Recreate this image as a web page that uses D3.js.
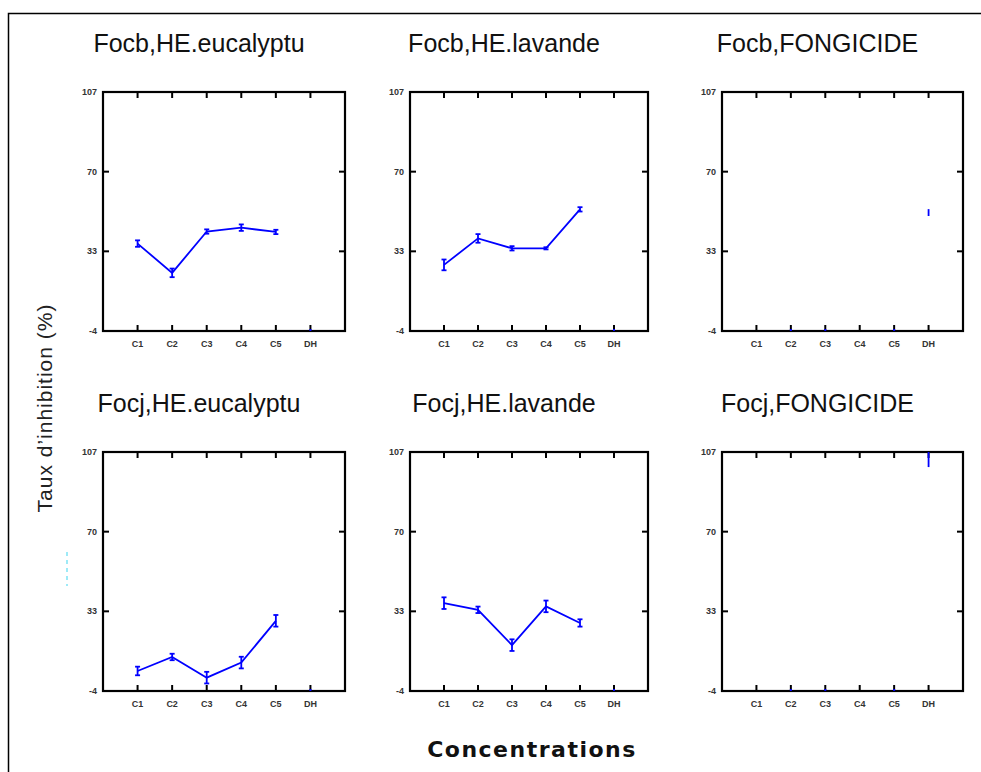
<!DOCTYPE html>
<html>
<head>
<meta charset="utf-8">
<script src="https://cdn.jsdelivr.net/npm/d3@7"></script>
<style>
  body { margin: 0; background: #fff; }
  svg { display: block; }
</style>
</head>
<body>
<div id="chart"></div>
<script>
// categories and ticks
const categories = ["C1", "C2", "C3", "C4", "C5", "DH"];
const yTicks = [-4, 33, 70, 107];

// values (null = nothing drawn)
const focbEucalyptu = [36.6, 23, 42.2, 44, 42, null];
const focbEucalyptuErr = [1.5, 2, 1, 1.5, 1, null];
const focbLavande = [26.7, 39, 34.4, 34.4, 52.5, null];
const focbLavandeErr = [2.5, 2, 1, 0.5, 1, null];
const focbFongicide = [null, null, null, null, null, 51];
const focbFongicideErr = [null, null, null, null, null, 1.6];
const focjEucalyptu = [5.3, 11.8, 2.2, 9.2, 28.6, null];
const focjEucalyptuErr = [2, 1.5, 2.7, 2.7, 2.7, null];
const focjLavande = [36.8, 33.7, 17.3, 35.3, 27.6, null];
const focjLavandeErr = [2.7, 1.5, 2.7, 2.7, 1.7, null];
const focjFongicide = [null, null, null, null, null, 103.5];
const focjFongicideErr = [null, null, null, null, null, 3.5];

// categories that only show a tiny blue mark on the x axis
const baseMarks = [["DH"], ["DH"], ["C2", "C3", "C5"], ["DH"], ["DH"], ["C2", "C3", "C5"]];

const panels = [
  { title: "Focb,HE.eucalyptu", values: focbEucalyptu, err: focbEucalyptuErr, line: true },
  { title: "Focb,HE.lavande", values: focbLavande, err: focbLavandeErr, line: true },
  { title: "Focb,FONGICIDE", values: focbFongicide, err: focbFongicideErr, line: false },
  { title: "Focj,HE.eucalyptu", values: focjEucalyptu, err: focjEucalyptuErr, line: true },
  { title: "Focj,HE.lavande", values: focjLavande, err: focjLavandeErr, line: true },
  { title: "Focj,FONGICIDE", values: focjFongicide, err: focjFongicideErr, line: false }
];

const W = 981, H = 772;
const colLeft = [103, 410, 722];
const colWidth = [242, 238, 241];
const rowTop = [92, 452];
const boxH = 239;

const svg = d3.select("#chart").append("svg")
  .attr("width", W)
  .attr("height", H);

// outer frame (only top and left visible)
svg.append("path")
  .attr("d", `M8.5,${H} V13.5 H${W}`)
  .attr("fill", "none")
  .attr("stroke", "#000")
  .attr("stroke-width", 1.5);

panels.forEach((p, i) => {
  const col = i % 3, row = Math.floor(i / 3);
  const left = colLeft[col], top = rowTop[row];
  const w = colWidth[col];

  const x = d3.scaleLinear().domain([0, 7]).range([0, w]);
  const y = d3.scaleLinear().domain([-4, 107]).range([boxH, 0]);
  const xPos = c => x(categories.indexOf(c) + 1);

  const g = svg.append("g").attr("transform", `translate(${left},${top})`);

  // title
  svg.append("text")
    .attr("x", left + w / 2 - 25)
    .attr("y", top - 40)
    .attr("text-anchor", "middle")
    .style("font-family", "'Liberation Sans', Arial, sans-serif")
    .style("font-size", "25px")
    .style("fill", "#111")
    .text(p.title);

  // ticks inside the box, all four sides
  const tickLen = 6;
  categories.forEach(c => {
    g.append("line").attr("x1", xPos(c)).attr("x2", xPos(c))
      .attr("y1", boxH).attr("y2", boxH - tickLen)
      .attr("stroke", "#000").attr("stroke-width", 2);
    g.append("line").attr("x1", xPos(c)).attr("x2", xPos(c))
      .attr("y1", 0).attr("y2", tickLen)
      .attr("stroke", "#000").attr("stroke-width", 2);
    g.append("text")
      .attr("x", xPos(c))
      .attr("y", boxH + 16)
      .attr("text-anchor", "middle")
      .style("font-family", "'Liberation Sans', Arial, sans-serif")
      .style("font-size", "9px")
      .style("font-weight", "bold")
      .style("fill", "#333")
      .text(c);
  });
  yTicks.forEach(t => {
    g.append("line").attr("x1", 0).attr("x2", tickLen)
      .attr("y1", y(t)).attr("y2", y(t))
      .attr("stroke", "#000").attr("stroke-width", 2);
    g.append("line").attr("x1", w).attr("x2", w - tickLen)
      .attr("y1", y(t)).attr("y2", y(t))
      .attr("stroke", "#000").attr("stroke-width", 2);
    g.append("text")
      .attr("x", -6)
      .attr("y", y(t) + 3)
      .attr("text-anchor", "end")
      .style("font-family", "'Liberation Sans', Arial, sans-serif")
      .style("font-size", "9px")
      .style("font-weight", "bold")
      .style("fill", "#333")
      .text(t);
  });

  // box
  g.append("rect")
    .attr("x", 0).attr("y", 0)
    .attr("width", w).attr("height", boxH)
    .attr("fill", "none")
    .attr("stroke", "#000")
    .attr("stroke-width", 2.2);

  const pts = p.values.map((v, k) => ({ c: categories[k], v, e: p.err[k] }))
    .filter(d => d.v !== null);

  if (p.line) {
    g.append("path")
      .datum(pts)
      .attr("fill", "none")
      .attr("stroke", "#0000ff")
      .attr("stroke-width", 1.8)
      .attr("d", d3.line().x(d => xPos(d.c)).y(d => y(d.v)));
  }

  // error bars
  const eb = g.selectAll(".eb").data(pts).enter().append("g")
    .attr("stroke", "#0000ff").attr("stroke-width", 1.8);
  eb.append("line")
    .attr("x1", d => xPos(d.c)).attr("x2", d => xPos(d.c))
    .attr("y1", d => y(d.v - d.e)).attr("y2", d => y(d.v + d.e));
  eb.filter(() => p.line).append("line")
    .attr("x1", d => xPos(d.c) - 2.5).attr("x2", d => xPos(d.c) + 2.5)
    .attr("y1", d => y(d.v - d.e)).attr("y2", d => y(d.v - d.e));
  eb.filter(() => p.line).append("line")
    .attr("x1", d => xPos(d.c) - 2.5).attr("x2", d => xPos(d.c) + 2.5)
    .attr("y1", d => y(d.v + d.e)).attr("y2", d => y(d.v + d.e));

  // tiny marks on the x axis
  g.selectAll(".bm").data(baseMarks[i]).enter().append("line")
    .attr("x1", d => xPos(d)).attr("x2", d => xPos(d))
    .attr("y1", y(-4)).attr("y2", y(-4) - 2)
    .attr("stroke", "#0000ff").attr("stroke-width", 2);
});

// stray cyan dashes left of the bottom-left panel
svg.append("line")
  .attr("x1", 67).attr("x2", 67)
  .attr("y1", 552).attr("y2", 586)
  .attr("stroke", "#7fe3f5")
  .attr("stroke-width", 1.5)
  .attr("stroke-dasharray", "4,4");

// axis titles
svg.append("text")
  .attr("transform", "translate(52,408) rotate(-90)")
  .attr("text-anchor", "middle")
  .style("font-family", "'Liberation Sans', Arial, sans-serif")
  .style("font-size", "21px")
  .style("letter-spacing", "1px")
  .style("fill", "#222")
  .text("Taux d’inhibition (%)");

svg.append("text")
  .attr("x", 532)
  .attr("y", 757)
  .attr("text-anchor", "middle")
  .style("font-family", "'DejaVu Sans', Verdana, sans-serif")
  .style("font-size", "22px")
  .style("font-weight", "bold")
  .style("letter-spacing", "1.5px")
  .style("fill", "#111")
  .text("Concentrations");
</script>
</body>
</html>
